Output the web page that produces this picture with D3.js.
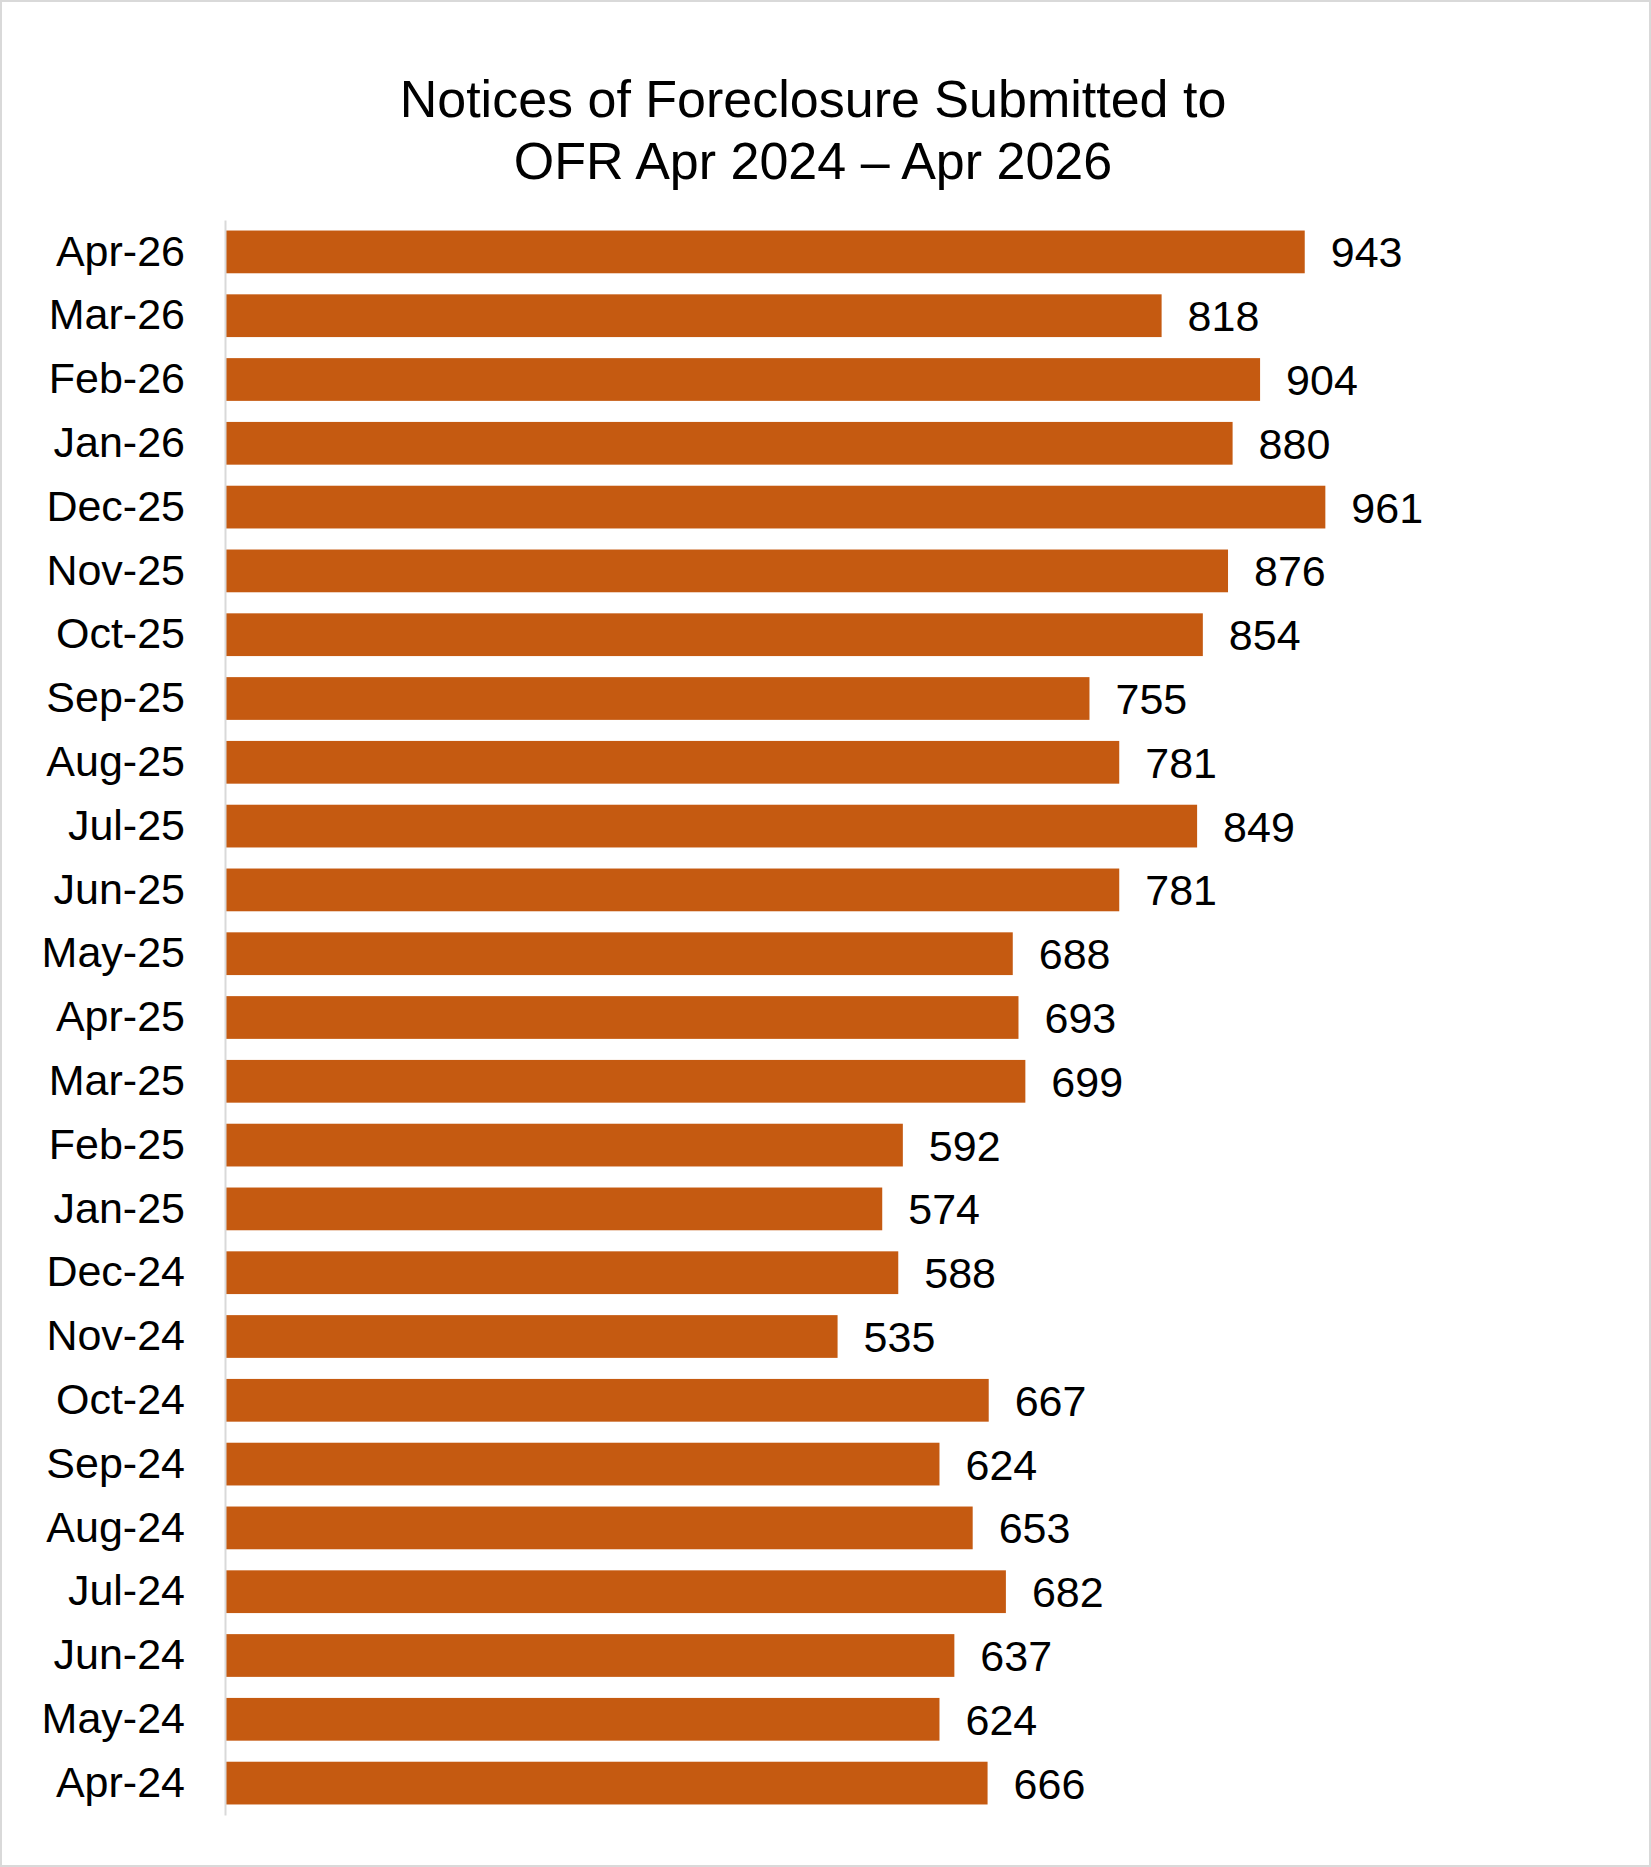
<!DOCTYPE html>
<html>
<head>
<meta charset="utf-8">
<script src="https://cdn.jsdelivr.net/npm/d3@7"></script>
<style>
  body { margin: 0; background: #fff; }
  svg { font-family: "Liberation Sans", Arial, sans-serif; }
</style>
</head>
<body>
<div id="chart"></div>
<script>
const months = ['Apr-26','Mar-26','Feb-26','Jan-26','Dec-25','Nov-25','Oct-25','Sep-25','Aug-25','Jul-25','Jun-25','May-25','Apr-25','Mar-25','Feb-25','Jan-25','Dec-24','Nov-24','Oct-24','Sep-24','Aug-24','Jul-24','Jun-24','May-24','Apr-24'];
const notices = [943,818,904,880,961,876,854,755,781,849,781,688,693,699,592,574,588,535,667,624,653,682,637,624,666];
const titleLines = ['Notices of Foreclosure Submitted to', 'OFR Apr 2024 \u2013 Apr 2026'];

const w = 1651;
const h = 1867;
const plotLeft = 225;
const plotTop = 220;
const plotBottom = 1815;

const svg = d3.select('#chart')
              .append('svg')
              .attr('width', w)
              .attr('height', h);

svg.append('rect')
   .attr('x', 1).attr('y', 1)
   .attr('width', w - 2).attr('height', h - 2)
   .attr('fill', '#fff')
   .attr('stroke', '#d9d9d9')
   .attr('stroke-width', 2);

svg.selectAll('text.title')
   .data(titleLines)
   .enter()
   .append('text')
   .attr('class', 'title')
   .attr('x', 813)
   .attr('y', (d, i) => 117 + i * 62)
   .attr('text-anchor', 'middle')
   .attr('font-size', 52)
   .attr('fill', '#000')
   .text(d => d);

const xScale = d3.scaleLinear().domain([0, 1000]).range([plotLeft, plotLeft + 1145]);
const yScale = d3.scaleBand().domain(months).range([plotTop, plotBottom]).paddingInner(0.33).paddingOuter(0.165);

svg.selectAll('rect.bar')
   .data(notices)
   .enter()
   .append('rect')
   .attr('class', 'bar')
   .attr('x', xScale(0))
   .attr('y', (d, i) => yScale(months[i]))
   .attr('width', d => xScale(d) - xScale(0))
   .attr('height', yScale.bandwidth())
   .attr('fill', '#c55a11');

svg.selectAll('text.val')
   .data(notices)
   .enter()
   .append('text')
   .attr('class', 'val')
   .attr('x', d => xScale(d) + 26)
   .attr('y', (d, i) => yScale(months[i]) + yScale.bandwidth() / 2)
   .attr('dy', '0.36em')
   .attr('font-size', 43)
   .text(d => d);

const yAxis = svg.append('g')
   .attr('transform', 'translate(' + plotLeft + ',0)')
   .call(d3.axisLeft(yScale).tickSize(0).tickPadding(40));
yAxis.select('.domain').attr('stroke', '#d9d9d9').attr('stroke-width', 2);
yAxis.selectAll('text')
     .attr('font-size', 43)
     .attr('font-family', '"Liberation Sans", Arial, sans-serif')
     .attr('fill', '#000');
</script>
</body>
</html>
